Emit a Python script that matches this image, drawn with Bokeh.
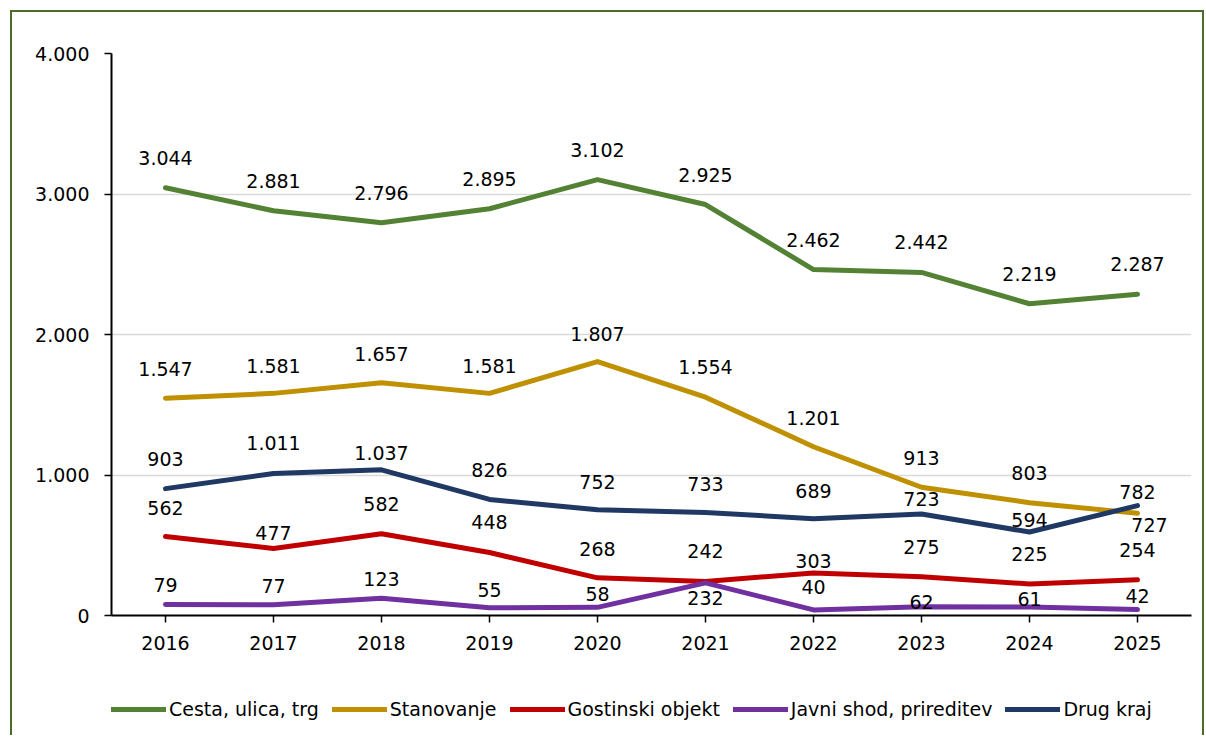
from bokeh.plotting import figure
from bokeh.layouts import column
from bokeh.models import FactorRange, FixedTicker, ColumnDataSource, Range1d, Legend, LegendItem
from bokeh.core.properties import value
from bokeh.embed import file_html
from bokeh.resources import INLINE

years = ["2016", "2017", "2018", "2019", "2020", "2021", "2022", "2023", "2024", "2025"]
cesta = [3044, 2881, 2796, 2895, 3102, 2925, 2462, 2442, 2219, 2287]
stanovanje = [1547, 1581, 1657, 1581, 1807, 1554, 1201, 913, 803, 727]
gostinski = [562, 477, 582, 448, 268, 242, 303, 275, 225, 254]
javni = [79, 77, 123, 55, 58, 232, 40, 62, 61, 42]
drug = [903, 1011, 1037, 826, 752, 733, 689, 723, 594, 782]
y_ticks = [0, 1000, 2000, 3000, 4000]
y_tick_labels = ["0", "1.000", "2.000", "3.000", "4.000"]

# label offsets in screen pixels (style, not data)
off_cesta = [-30] * 10
off_stan = [-29, -27, -29, -27, -28, -30, -29, -29, -30, 12]
off_gost = [-29, -15, -30, -31, -29, -30, -12, -30, -30, -30]
off_javni = [-19, -19, -19, -18, -13, 15, -23, -5, -8, -14]
off_drug = [-30, -30, -17, -29, -28, -29, -28, -15, -12, -14]
xoff_stan = [0] * 9 + [12]

FONT = "DejaVu Sans"
FS = "19px"
BORDER = "2px solid #4E6B2C"

series = [
    ("Cesta, ulica, trg", cesta, "#548235", off_cesta, [0] * 10),
    ("Stanovanje", stanovanje, "#BF9000", off_stan, xoff_stan),
    ("Gostinski objekt", gostinski, "#C00000", off_gost, [0] * 10),
    ("Javni shod, prireditev", javni, "#7030A0", off_javni, [0] * 10),
    ("Drug kraj", drug, "#203864", off_drug, [0] * 10),
]

p = figure(
    x_range=FactorRange(*years, range_padding=0),
    y_range=Range1d(0, 4000),
    frame_width=1080, frame_height=562,
    min_border_left=99, min_border_right=11, min_border_top=41, min_border_bottom=60,
    output_backend="svg", toolbar_location=None,
    background_fill_color="white", border_fill_color="white",
)
p.outline_line_color = None

for name, vals, color, yoff, xoff in series:
    p.line(years, vals, line_width=5, color=color,
           line_join="round", line_cap="round")

for name, vals, color, yoff, xoff in series:
    src = ColumnDataSource(dict(x=years, y=vals,
                                t=[f"{v:,}".replace(",", ".") for v in vals],
                                xo=xoff, yo=yoff))
    p.text(x="x", y="y", text="t", x_offset="xo", y_offset="yo", source=src,
           text_align="center", text_baseline="middle",
           text_font=value(FONT), text_font_size=FS, text_color="black")

p.xgrid.grid_line_color = None
p.ygrid.grid_line_color = "#D9D9D9"
p.ygrid.grid_line_width = 1.5
p.ygrid.ticker = FixedTicker(ticks=y_ticks)

p.yaxis.ticker = FixedTicker(ticks=y_ticks)
p.yaxis.major_label_overrides = {t: l for t, l in zip(y_ticks, y_tick_labels)}
for ax in (p.xaxis, p.yaxis):
    ax.axis_line_color = "black"
    ax.axis_line_width = 2
    ax.major_tick_line_color = "black"
    ax.major_tick_line_width = 1.5
    ax.major_tick_in = 0
    ax.major_tick_out = 7
    ax.minor_tick_line_color = None
    ax.major_label_text_font = FONT
    ax.major_label_text_font_size = FS
    ax.major_label_text_color = "black"
p.yaxis.major_label_standoff = 15
p.xaxis.major_label_standoff = 13

# legend strip below the chart (series drawn out of view; only the legend shows)
pl = figure(width=1190, height=60, x_range=FactorRange(*years, range_padding=0),
            y_range=Range1d(9000, 10000),
            x_axis_type=None, y_axis_type=None, min_border=0,
            output_backend="svg", toolbar_location=None,
            background_fill_color="white", border_fill_color="white")
pl.outline_line_color = None
pl.xgrid.grid_line_color = None
pl.ygrid.grid_line_color = None
items = []
for name, vals, color, yoff, xoff in series:
    r = pl.line(years, vals, line_width=5, color=color, line_cap="round")
    items.append(LegendItem(label=name, renderers=[r]))
lg = Legend(items=items, orientation="horizontal", location=(0, 15),
            glyph_width=55, glyph_height=20, label_height=20, label_standoff=3,
            spacing=13, padding=2, margin=0, border_line_color=None,
            background_fill_alpha=0, label_text_font=FONT,
            label_text_font_size=FS, label_text_color="black")
pl.add_layout(lg, "center")

layout = column(p, pl, spacing=0)
layout.styles = {"border-top": BORDER, "border-left": BORDER, "border-right": BORDER,
                 "margin-left": "10px", "margin-top": "10px", "background": "white"}

open("out.html", "w").write(file_html(layout, INLINE))
